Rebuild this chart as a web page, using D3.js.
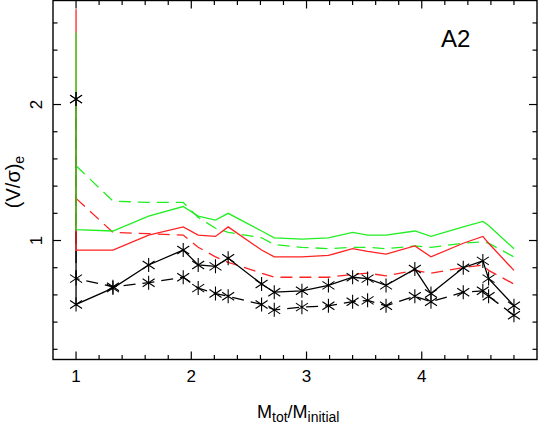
<!DOCTYPE html>
<html>
<head>
<meta charset="utf-8">
<script src="https://cdn.jsdelivr.net/npm/d3@7"></script>
<style>
  body { margin: 0; background: #fff; }
  text { font-family: "Liberation Sans", Arial, sans-serif; fill: #000; }
</style>
</head>
<body>
<script>
// x positions shared by every curve (first two points both sit at 1)
var xVals = [1, 1, 1.32, 1.63, 1.93, 2.06, 2.21, 2.32, 2.61, 2.72, 2.96, 3.19, 3.40, 3.53, 3.69, 3.94, 4.08, 4.36, 4.53, 4.58, 4.80];

// series values
var blackSolid  = [2.04, 0.53, 0.65, 0.82, 0.93, 0.82, 0.81, 0.87, 0.68, 0.62, 0.63, 0.67, 0.73, 0.72, 0.67, 0.79, 0.61, 0.80, 0.85, 0.72, 0.52];
var blackDashed = [2.04, 0.72, 0.66, 0.69, 0.73, 0.65, 0.61, 0.59, 0.53, 0.49, 0.51, 0.52, 0.55, 0.56, 0.52, 0.59, 0.55, 0.62, 0.63, 0.59, 0.45];
var redSolid    = [2.70, 0.93, 0.93, 1.04, 1.10, 1.04, 1.03, 1.10, 0.93, 0.88, 0.88, 0.89, 0.94, 0.92, 0.90, 0.96, 0.88, 0.98, 1.03, 0.98, 0.78];
var greenSolid  = [2.53, 1.08, 1.07, 1.18, 1.25, 1.18, 1.15, 1.20, 1.07, 1.02, 1.01, 1.02, 1.06, 1.04, 1.04, 1.07, 1.03, 1.10, 1.14, 1.11, 0.94];
var redDashed   = [1.31, 1.31, 1.06, 1.05, 1.04, 0.95, 0.88, 0.84, 0.76, 0.73, 0.73, 0.73, 0.75, 0.76, 0.74, 0.78, 0.76, 0.80, 0.82, 0.78, 0.68];
var greenDashed = [1.55, 1.55, 1.29, 1.28, 1.28, 1.17, 1.09, 1.06, 1.02, 0.97, 0.95, 0.94, 0.95, 0.95, 0.94, 0.96, 0.95, 0.98, 0.99, 0.98, 0.88];

// tick labels
var xTickLabels = [1, 2, 3, 4];
var yTickLabels = [1, 2];
var panelLabel = "A2";

var width = 538,
    height = 424;
// note: "top" is taken by window.top, so plot edges get their own names
var padL = 53, padR = 537, padT = 0.5, padB = 359.5;

var svg = d3.select("body")
    .append("svg")
    .attr("width", width)
    .attr("height", height);

// scales
var x = d3.scaleLinear()
    .domain([0.8, 5.0])
    .range([padL, padR]);

var y = d3.scaleLinear()
    .domain([0.125, 2.765])
    .range([padB, padT]);

svg.append("clipPath").attr("id", "clip")
    .append("rect")
    .attr("x", padL).attr("y", padT)
    .attr("width", padR - padL).attr("height", padB - padT);

var line = d3.line()
    .x(function(d){ return x(d[0]); })
    .y(function(d){ return y(d[1]); });

function pairs(vals){
    return vals.map(function(v, i){ return [xVals[i], v]; });
}

var plot = svg.append("g").attr("clip-path", "url(#clip)");

// curves, drawn back to front (green solid ends up on top at x=1)
var curves = [
    { vals: blackDashed, color: "#000",    dash: "12,7" },
    { vals: redDashed,   color: "#ff2222", dash: "12,7" },
    { vals: greenDashed, color: "#22ee22", dash: "12,7" },
    { vals: blackSolid,  color: "#000",    dash: null },
    { vals: redSolid,    color: "#ff2222", dash: null },
    { vals: greenSolid,  color: "#22ee22", dash: null }
];

curves.forEach(function(c){
    plot.append("path")
        .datum(pairs(c.vals))
        .attr("fill", "none")
        .attr("stroke", c.color)
        .attr("stroke-width", 1.3)
        .attr("stroke-dasharray", c.dash)
        .attr("d", line);
});

// asterisk markers on the black curves
var star = "M0,-7V7M-6,-4L6,4M-6,4L6,-4";
[blackDashed, blackSolid].forEach(function(vals){
    plot.selectAll(null)
        .data(pairs(vals))
        .enter()
        .append("path")
        .attr("transform", function(d){ return "translate(" + x(d[0]) + "," + y(d[1]) + ")"; })
        .attr("d", star)
        .attr("fill", "none")
        .attr("stroke", "#000")
        .attr("stroke-width", 1.1);
});

// frame
svg.append("rect")
    .attr("x", padL).attr("y", padT)
    .attr("width", padR - padL).attr("height", padB - padT)
    .attr("fill", "none")
    .attr("stroke", "#000")
    .attr("stroke-width", 1.4);

// inward ticks on all four sides
var xMinor = d3.range(1, 50).map(function(i){ return 0.8 + i * 0.2; }).filter(function(v){ return v < 4.99; });
var yMinor = d3.range(1, 14).map(function(i){ return i * 0.2; });

function isMajor(v){ return Math.abs(v - Math.round(v)) < 1e-6; }

var ticks = svg.append("g").attr("stroke", "#000").attr("stroke-width", 1.2);
xMinor.forEach(function(v){
    var len = isMajor(v) ? 8 : 4.5;
    ticks.append("line").attr("x1", x(v)).attr("x2", x(v)).attr("y1", padB).attr("y2", padB - len);
    ticks.append("line").attr("x1", x(v)).attr("x2", x(v)).attr("y1", padT).attr("y2", padT + len);
});
yMinor.forEach(function(v){
    var len = isMajor(v) ? 8 : 4.5;
    ticks.append("line").attr("y1", y(v)).attr("y2", y(v)).attr("x1", padL).attr("x2", padL + len);
    ticks.append("line").attr("y1", y(v)).attr("y2", y(v)).attr("x1", padR).attr("x2", padR - len);
});

// tick labels
svg.selectAll(".xlab")
    .data(xTickLabels)
    .enter()
    .append("text")
    .attr("x", function(d){ return x(d); })
    .attr("y", 382)
    .attr("text-anchor", "middle")
    .style("font-size", "17px")
    .text(function(d){ return d; });

svg.selectAll(".ylab")
    .data(yTickLabels)
    .enter()
    .append("text")
    .attr("transform", function(d){ return "translate(42," + y(d) + ") rotate(-90)"; })
    .attr("text-anchor", "middle")
    .style("font-size", "17px")
    .text(function(d){ return d; });

// panel label
svg.append("text")
    .attr("x", 441)
    .attr("y", 47)
    .style("font-size", "24px")
    .text(panelLabel);

// axis titles
var xt = svg.append("text")
    .attr("x", 257)
    .attr("y", 418)
    .style("font-size", "18px");
xt.append("tspan").text("M");
xt.append("tspan").attr("dy", 4).style("font-size", "14px").text("tot");
xt.append("tspan").attr("dy", -4).text("/M");
xt.append("tspan").attr("dy", 4).style("font-size", "14px").text("initial");

var yt = svg.append("text")
    .attr("transform", "translate(20,182) rotate(-90)")
    .attr("text-anchor", "middle")
    .style("font-size", "20px");
yt.append("tspan").text("(V/σ)");
yt.append("tspan").attr("dy", 4).style("font-size", "14px").text("e");
</script>
</body>
</html>
